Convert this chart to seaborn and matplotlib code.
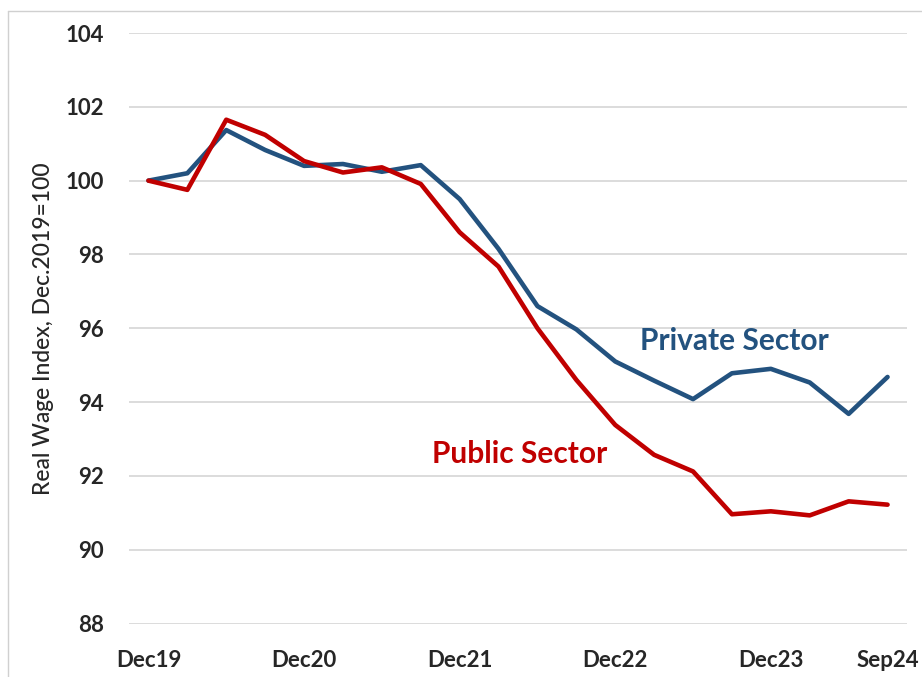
import matplotlib
matplotlib.use("Agg")
import matplotlib.pyplot as plt
from matplotlib.lines import Line2D
import pandas as pd
import seaborn as sns

# Quarterly real wage index, Dec 2019 = 100
quarters = ["Dec19", "Mar20", "Jun20", "Sep20", "Dec20", "Mar21", "Jun21", "Sep21",
            "Dec21", "Mar22", "Jun22", "Sep22", "Dec22", "Mar23", "Jun23", "Sep23",
            "Dec23", "Mar24", "Jun24", "Sep24"]
private_sector = [100.0, 100.2, 101.37, 100.83, 100.4, 100.45, 100.24, 100.42,
                  99.5, 98.15, 96.6, 95.97, 95.1, 94.58, 94.08, 94.78,
                  94.9, 94.53, 93.68, 94.68]
public_sector = [100.0, 99.75, 101.65, 101.24, 100.53, 100.22, 100.36, 99.91,
                 98.6, 97.67, 96.0, 94.6, 93.38, 92.57, 92.12, 90.96,
                 91.04, 90.93, 91.31, 91.22]
tick_labels = ["Dec19", "Dec20", "Dec21", "Dec22", "Dec23", "Sep24"]
y_ticks = [88, 90, 92, 94, 96, 98, 100, 102, 104]

BLUE = "#23527F"
RED = "#C00000"

sns.set_theme(style="white")
plt.rcParams["font.family"] = ["Lato", "DejaVu Sans"]

df = pd.DataFrame({
    "pos": list(range(len(quarters))) * 2,
    "quarter": quarters * 2,
    "value": private_sector + public_sector,
    "sector": ["Private Sector"] * len(quarters) + ["Public Sector"] * len(quarters),
})

fig = plt.figure(figsize=(9.22, 6.77), dpi=100)
ax = fig.add_axes([129 / 922, 1 - 623.5 / 677, (907 - 129) / 922, (623.5 - 33) / 677])

sns.lineplot(data=df, x="pos", y="value", hue="sector",
             palette={"Private Sector": BLUE, "Public Sector": RED},
             hue_order=["Private Sector", "Public Sector"],
             linewidth=3.3, legend=False, ax=ax, zorder=3)

ax.set_xlim(-0.5, len(quarters) - 0.5)
ax.set_ylim(88, 104)
ax.set_yticks(y_ticks)
ax.set_yticklabels([str(v) for v in y_ticks], fontsize=16, fontweight="bold")
ax.set_xticks([quarters.index(t) for t in tick_labels])
ax.set_xticklabels(tick_labels, fontsize=16, fontweight="bold")
ax.tick_params(axis="y", length=0, pad=18)
ax.tick_params(axis="x", length=0, pad=19)
ax.grid(axis="y", color="#D9D9D9", linewidth=1.3, zorder=0)
ax.grid(axis="x", visible=False)
for s in ax.spines.values():
    s.set_visible(False)

ax.set_xlabel("")
ax.set_ylabel("Real Wage Index, Dec.2019=100", fontsize=16.5, labelpad=8,
              fontweight="medium")

ax.text(15.05, 95.65, "Private Sector", color=BLUE, fontsize=21.5, fontweight="bold",
        ha="center", va="center")
ax.text(9.55, 92.6, "Public Sector", color=RED, fontsize=21.5, fontweight="bold",
        ha="center", va="center")

# thin frame around the chart area
fig.add_artist(Line2D([8 / 922, 8 / 922], [0, 1 - 10.5 / 677], transform=fig.transFigure,
                      color="#D0D0D0", linewidth=1))
fig.add_artist(Line2D([8 / 922, 1], [1 - 10.5 / 677, 1 - 10.5 / 677], transform=fig.transFigure,
                      color="#D0D0D0", linewidth=1))

fig.savefig("out.png", dpi=100)
